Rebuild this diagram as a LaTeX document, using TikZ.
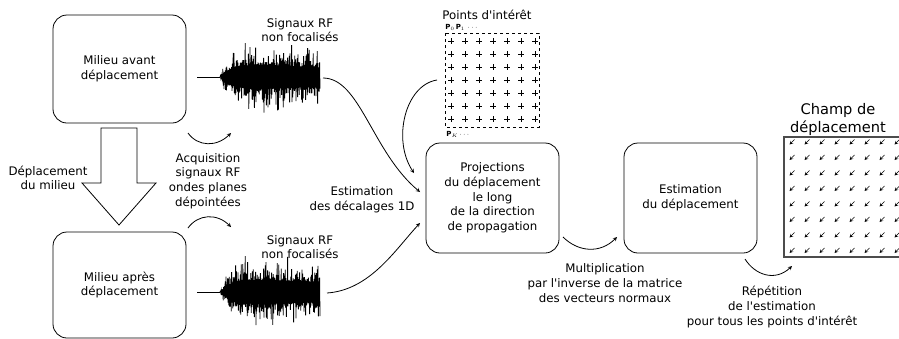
\documentclass[tikz,border=0pt]{standalone}
\usepackage{fontspec}
\setmainfont{DejaVu Sans}[Ligatures=TeXOff]

% noisy RF trace: #1 = x start, #2 = baseline
\newcommand{\rfsignal}[2]{%
	\draw[line width=0.8pt] (#1,#2)
		\foreach \i in {0,...,250} {
			-- ({#1+\i*0.4}, {#2 + (1-2*mod(\i,2))*46*(1-exp(-\i/30))*(1-0.0012*\i)*(0.3+0.7*rnd*rnd)})
		};
}

\begin{document}
\begin{tikzpicture}[x=1pt, y=-1pt, line width=0.8pt, >=stealth,
		font=\fontsize{11.8}{14.7}\selectfont,
		etape/.style={draw, rounded corners=14pt, minimum width=133pt, minimum height=108pt, align=center},
		legende/.style={align=center, inner sep=0pt},
		indice/.style={anchor=west, inner sep=0pt, font=\fontsize{7}{7}\selectfont}]
	\useasboundingbox (0,0) rectangle (899,338);
	\pgfmathsetseed{7}

	% The two states of the medium.
	\node[etape] (avant) at (119.5,69) {Milieu avant\\déplacement};
	\node[etape, minimum height=106pt] (apres) at (119.5,285) {Milieu après\\déplacement};
	\draw (101,128) -- (137,128) -- (137,183) -- (156,183) -- (119,225)
		-- (82,183) -- (101,183) -- cycle;
	\node[legende] (depl) at (48,178) {Déplacement\\du milieu};

	% Acquisition of the RF signals.
	\coordinate (sigAfrom) at (197,77);
	\coordinate (sigA) at (220,77);
	\coordinate (sigBfrom) at (197,292);
	\coordinate (sigB) at (220,292);
	\draw (sigAfrom) -- (sigA);
	\draw (sigBfrom) -- (sigB);
	\rfsignal{220}{77}
	\rfsignal{220}{292}
	\node[legende] (sigAlbl) at (300,30) {Signaux RF\\non focalisés};
	\node[legende] (sigBlbl) at (300,247) {Signaux RF\\non focalisés};
	\coordinate (acqA1) at (188,133);
	\coordinate (acqA2) at (231,133);
	\coordinate (acqB1) at (188,228);
	\coordinate (acqB2) at (231,227);
	\draw[->] (acqA1) .. controls +(10,14) and +(-14,14) .. (acqA2);
	\draw[->] (acqB1) .. controls +(10,-14) and +(-14,-14) .. (acqB2);
	\node[legende] (acq) at (208,181) {Acquisition\\signaux RF\\ondes planes\\dépointées};

	% Points of interest.
	\draw[dashed, line width=0.7pt] (445,33) rectangle (539,127);
	\foreach \i in {0,...,6} {
		\foreach \j in {0,...,6} {
			\draw[line width=0.6pt] ({451+14*\i-3},{41+13*\j}) -- ++(6,0)
				({451+14*\i},{41+13*\j-3}) -- ++(0,6);
		}
	}
	\node[legende] (points) at (487,15) {Points d'intérêt};
	\node[indice] (p0) at (445,27) {$\mathbf{P}_0\,\mathbf{P}_1\,\cdots$};
	\node[indice] (pk) at (446,134) {$\mathbf{P}_K\cdots$};
	\coordinate (ptsout) at (437,80);

	% Projections and estimation.
	\node[etape, minimum height=110pt] (proj) at (492.5,198)
		{Projections\\du déplacement\\le long\\de la direction\\de propagation};
	\node[etape, minimum height=110pt] (estim) at (690.5,198) {Estimation\\du déplacement};
	\coordinate (sigAend) at (323,78);
	\coordinate (sigBend) at (327,293);
	\coordinate (projA) at (420,192);
	\coordinate (projB) at (420,223);
	\coordinate (projP) at (414,173);
	\draw[->] (sigAend) .. controls (360,78) and (372,152) .. (projA);
	\draw[->] (sigBend) .. controls (370,290) and (395,250) .. (projB);
	\draw[->] (ptsout) .. controls (405,85) and (392,140) .. (projP);
	\node[legende] (decal) at (362,200) {Estimation\\des décalages 1D};

	\coordinate (projout) at (563,237);
	\coordinate (estimin) at (617,237);
	\draw[->] (projout) .. controls +(15,15) and +(-17,17) .. (estimin);
	\node[legende] (mult) at (605,283) {Multiplication\\par l'inverse de la matrice\\des vecteurs normaux};

	% Displacement field.
	\coordinate (estimout) at (745,259);
	\coordinate (champin) at (792,266);
	\draw[->] (estimout) .. controls +(10,16) and +(-17,16) .. (champin);
	\node[legende] (repet) at (772,307) {Répétition\\de l'estimation\\pour tous les points d'intérêt};
	\draw[gray!60!black, line width=1.3pt] (899,137) -- (784,137) -- (784,257) -- (899,257);
	\foreach \i in {0,...,7} {
		\foreach \j in {0,...,7} {
			\draw[->, line width=0.6pt] ({792+15*\i+2.5},{142+15.5*\j-2.5}) -- ++(-5,5);
		}
	}
	\node[legende, font=\fontsize{14.6}{18}\selectfont] (champ) at (838,119) {Champ de\\déplacement};
\end{tikzpicture}
\end{document}
